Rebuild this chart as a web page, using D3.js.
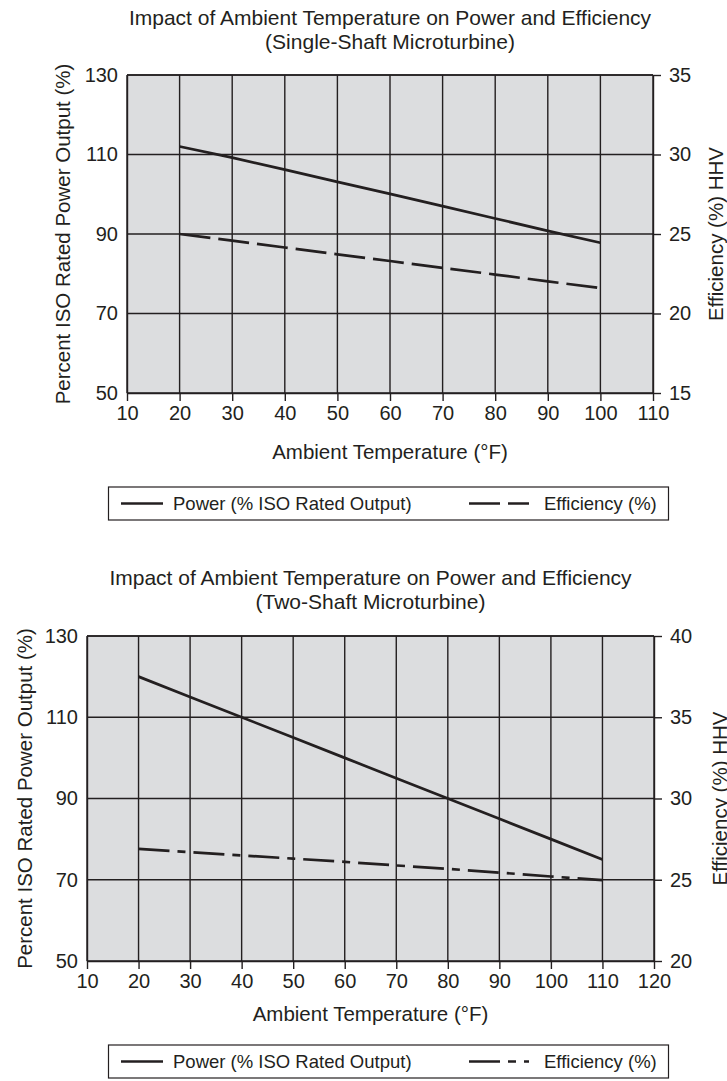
<!DOCTYPE html>
<html>
<head>
<meta charset="utf-8">
<script src="https://cdn.jsdelivr.net/npm/d3@7"></script>
<style>
  html, body { margin: 0; padding: 0; background: #fff; }
  svg { display: block; }
  text { font-family: "Liberation Sans", Arial, sans-serif; fill: #231f20; }
</style>
</head>
<body>
<svg id="chart" width="727" height="1081"></svg>
<script>
// Single-shaft microturbine
const singleTemps = [20, 30, 40, 50, 60, 70, 80, 90, 100];
const singlePower = [112, 109.2, 106.2, 103.1, 100.1, 97, 93.9, 90.8, 87.8];
const singleEff = [25, 24.58, 24.15, 23.72, 23.3, 22.87, 22.45, 22.02, 21.6];
const singleXTicks = [10, 20, 30, 40, 50, 60, 70, 80, 90, 100, 110];
const singleRightTicks = [15, 20, 25, 30, 35];

// Two-shaft microturbine
const twoTemps = [20, 30, 40, 50, 60, 70, 80, 90, 100, 110];
const twoPower = [120, 115, 110, 105, 100, 95, 90, 85, 80, 75];
const twoEff = [26.9, 26.7, 26.5, 26.3, 26.1, 25.88, 25.67, 25.44, 25.2, 24.98];
const twoXTicks = [10, 20, 30, 40, 50, 60, 70, 80, 90, 100, 110, 120];
const twoRightTicks = [20, 25, 30, 35, 40];

const leftTicks = [50, 70, 90, 110, 130];

const titleLine1 = "Impact of Ambient Temperature on Power and Efficiency";
const subtitles = ["(Single-Shaft Microturbine)", "(Two-Shaft Microturbine)"];
const xTitle = "Ambient Temperature (\u00B0F)";
const leftTitle = "Percent ISO Rated Power Output (%)";
const rightTitle = "Efficiency (%) HHV";
const legendPower = "Power (% ISO Rated Output)";
const legendEff = "Efficiency (%)";

const svg = d3.select("#chart");
const INK = "#231f20";
const PLOT_BG = "#dcdddf";

function panel(cfg) {
  const g = svg.append("g");
  const x = d3.scaleLinear().domain(cfg.xDomain).range([cfg.left, cfg.right]);
  const yL = d3.scaleLinear().domain([50, 130]).range([cfg.bottom, cfg.top]);
  const yR = d3.scaleLinear().domain(cfg.rightDomain).range([cfg.bottom, cfg.top]);
  const cx = (cfg.left + cfg.right) / 2;
  const cy = (cfg.top + cfg.bottom) / 2;

  // titles
  g.append("text").attr("x", cx).attr("y", cfg.titleY)
    .attr("text-anchor", "middle").attr("font-size", 21).text(titleLine1);
  g.append("text").attr("x", cx).attr("y", cfg.titleY + 24)
    .attr("text-anchor", "middle").attr("font-size", 21).text(cfg.subtitle);

  // plot background
  g.append("rect").attr("x", cfg.left).attr("y", cfg.top)
    .attr("width", cfg.right - cfg.left).attr("height", cfg.bottom - cfg.top)
    .attr("fill", PLOT_BG);

  // grid
  g.append("g").selectAll("line").data(cfg.xTicks).join("line")
    .attr("x1", d => x(d)).attr("x2", d => x(d))
    .attr("y1", cfg.top).attr("y2", cfg.bottom)
    .attr("stroke", INK).attr("stroke-width", 1.4);
  g.append("g").selectAll("line").data(leftTicks).join("line")
    .attr("x1", cfg.left).attr("x2", cfg.right)
    .attr("y1", d => yL(d)).attr("y2", d => yL(d))
    .attr("stroke", INK).attr("stroke-width", 1.4);

  // axes
  const xAxis = g.append("g").attr("transform", `translate(0,${cfg.bottom})`)
    .call(d3.axisBottom(x).tickValues(cfg.xTicks).tickFormat(d3.format("d"))
      .tickSize(8).tickSizeOuter(0).tickPadding(5));
  const lAxis = g.append("g").attr("transform", `translate(${cfg.left},0)`)
    .call(d3.axisLeft(yL).tickValues(leftTicks).tickFormat(d3.format("d"))
      .tickSize(0).tickSizeOuter(0).tickPadding(9));
  const rAxis = g.append("g").attr("transform", `translate(${cfg.right},0)`)
    .call(d3.axisRight(yR).tickValues(cfg.rightTicks).tickFormat(d3.format("d"))
      .tickSize(8).tickSizeOuter(0).tickPadding(8));
  [xAxis, lAxis, rAxis].forEach(a => {
    a.selectAll("path.domain").attr("stroke", INK).attr("stroke-width", 1.4);
    a.selectAll(".tick line").attr("stroke", INK).attr("stroke-width", 1.4);
    a.selectAll(".tick text").attr("font-size", 20).attr("fill", INK)
      .attr("font-family", null);
  });
  g.append("line").attr("x1", cfg.left).attr("x2", cfg.right)
    .attr("y1", cfg.top).attr("y2", cfg.top)
    .attr("stroke", INK).attr("stroke-width", 1.4);

  // axis titles
  g.append("text").attr("x", cx).attr("y", cfg.xTitleY)
    .attr("text-anchor", "middle").attr("font-size", 20.5).text(xTitle);
  g.append("text").attr("transform", `translate(${cfg.leftTitleX},${cy}) rotate(-90)`)
    .attr("text-anchor", "middle").attr("font-size", 20.5).text(leftTitle);
  g.append("text").attr("transform", `translate(${cfg.rightTitleX},${cy}) rotate(-90)`)
    .attr("text-anchor", "middle").attr("font-size", 20.5).text(rightTitle);

  // series
  const powerLine = d3.line().x((d, i) => x(cfg.temps[i])).y(d => yL(d));
  const effLine = d3.line().x((d, i) => x(cfg.temps[i])).y(d => yR(d));
  g.append("path").datum(cfg.power).attr("d", powerLine)
    .attr("fill", "none").attr("stroke", INK).attr("stroke-width", 2.7);
  g.append("path").datum(cfg.eff).attr("d", effLine)
    .attr("fill", "none").attr("stroke", INK).attr("stroke-width", 2.7)
    .attr("stroke-dasharray", cfg.dash);

  // legend
  const ly = cfg.legendTop;
  const lg = g.append("g");
  lg.append("rect").attr("x", 108.5).attr("y", ly).attr("width", 560).attr("height", 33)
    .attr("fill", "#fff").attr("stroke", INK).attr("stroke-width", 1.2);
  const my = ly + 16.5;
  lg.append("line").attr("x1", 121).attr("x2", 163).attr("y1", my).attr("y2", my)
    .attr("stroke", INK).attr("stroke-width", 2.7);
  lg.append("text").attr("x", 173).attr("y", my + 6.5).attr("font-size", 18.5).text(legendPower);
  lg.append("line").attr("x1", 469).attr("x2", 529).attr("y1", my).attr("y2", my)
    .attr("stroke", INK).attr("stroke-width", 2.7).attr("stroke-dasharray", cfg.dash);
  lg.append("text").attr("x", 544).attr("y", my + 6.5).attr("font-size", 18.5).text(legendEff);
}

panel({
  left: 127, right: 653, top: 75, bottom: 393,
  xDomain: [10, 110], rightDomain: [15, 35],
  xTicks: singleXTicks, rightTicks: singleRightTicks,
  temps: singleTemps, power: singlePower, eff: singleEff,
  dash: "31,8", subtitle: subtitles[0], titleY: 25,
  xTitleY: 459, leftTitleX: 69.5, rightTitleX: 723, legendTop: 487
});

panel({
  left: 87, right: 654, top: 636, bottom: 961,
  xDomain: [10, 120], rightDomain: [20, 40],
  xTicks: twoXTicks, rightTicks: twoRightTicks,
  temps: twoTemps, power: twoPower, eff: twoEff,
  dash: "31,8,8,8", subtitle: subtitles[1], titleY: 585,
  xTitleY: 1021, leftTitleX: 31.5, rightTitleX: 727, legendTop: 1045
});
</script>
</body>
</html>
